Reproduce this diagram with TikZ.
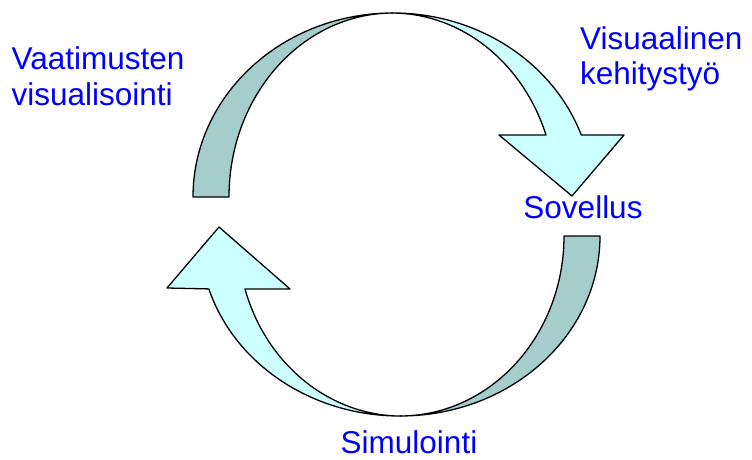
\documentclass[tikz,border=0pt]{standalone}
\usepackage{fontspec}
\setmainfont{Liberation Sans}
\definecolor{ribbonback}{RGB}{165,205,204}
\definecolor{ribbonfront}{RGB}{204,255,255}
\definecolor{labelblue}{RGB}{0,0,255}
\begin{document}
\begin{tikzpicture}[x=1pt,y=1pt,
  back/.style={fill=ribbonback,draw=black,line width=1.3pt,line join=round},
  front/.style={fill=ribbonfront,draw=black,line width=1.3pt,line join=round},
  lbl/.style={text=labelblue,inner sep=0pt,font=\fontsize{31.5}{35}\selectfont}]
\useasboundingbox (0,0) rectangle (752,459);

% upper curved arrow: back face on the left, front face with head on the right
\draw[back] (193,262) arc[start angle=180,end angle=90,x radius=200,y radius=184]
  arc[start angle=90,end angle=180,x radius=164,y radius=184] -- cycle;
\coordinate (topinner) at (546,324);
\draw[front] (393,446) arc[start angle=90,end angle=19.7,x radius=200,y radius=184]
  -- (624,324) -- (572,263) -- (499,324) -- (topinner)
  arc[start angle=19.7,end angle=90,x radius=164,y radius=184] -- cycle;

% lower curved arrow: back face on the right, front face with head on the left
\draw[back] (600,223) arc[start angle=0,end angle=-90,x radius=200,y radius=180]
  arc[start angle=-90,end angle=0,x radius=164,y radius=180] -- cycle;
\coordinate (botinner) at (245,170);
\draw[front] (400,43) arc[start angle=-90,end angle=-162.9,x radius=200,y radius=180]
  -- (167,171) -- (219,232) -- (290,170) -- (botinner)
  arc[start angle=-162.9,end angle=-90,x radius=164,y radius=180] -- cycle;

% labels
\node[lbl,anchor=base west] (req1) at (11.5,389) {Vaatimusten};
\node[lbl,anchor=base west] (req2) at (11.5,354) {visualisointi};
\node[lbl,anchor=base west] (dev1) at (580,409) {Visuaalinen};
\node[lbl,anchor=base west] (dev2) at (580,374) {kehitystyö};
\node[lbl,anchor=base] (app) at (583,241) {Sovellus};
\node[lbl,anchor=base] (sim) at (409,5.5) {Simulointi};
\end{tikzpicture}
\end{document}
